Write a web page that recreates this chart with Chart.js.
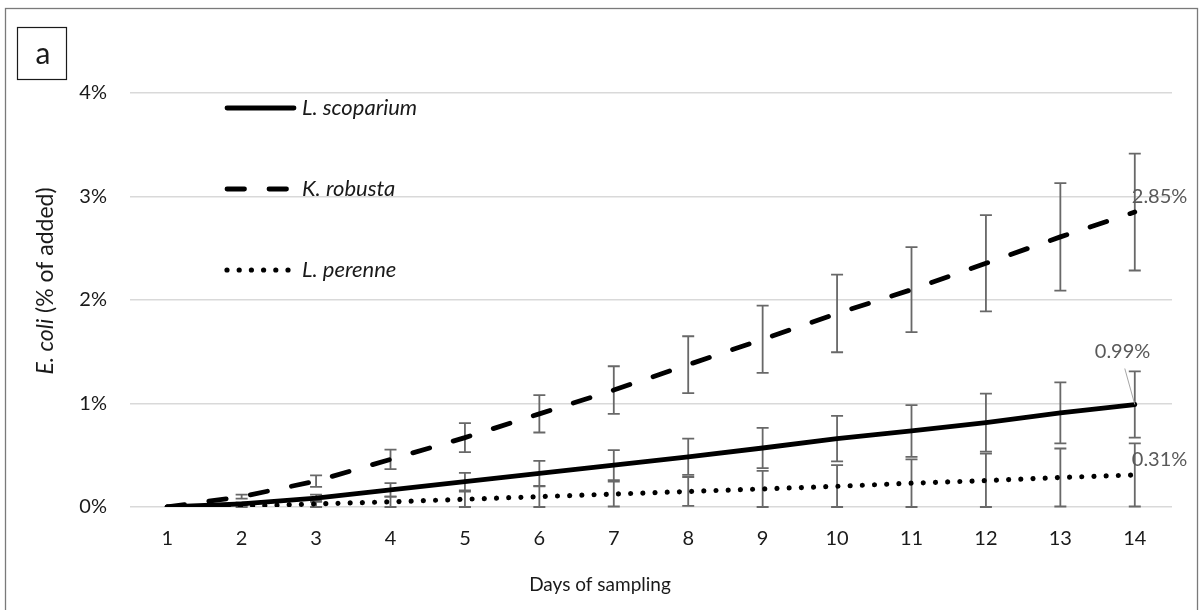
<!DOCTYPE html>
<html>
<head>
<meta charset="utf-8">
<title>E. coli recovery by plant species</title>
<script src="https://cdn.jsdelivr.net/npm/chart.js@4.4.1/dist/chart.umd.min.js"></script>
<style>
  html, body { margin: 0; padding: 0; background: #ffffff; }
  canvas { display: block; }
</style>
</head>
<body>
<canvas id="chart" width="1200" height="610"></canvas>
<script>
// Sampling days (category axis)
const days = ['1', '2', '3', '4', '5', '6', '7', '8', '9', '10', '11', '12', '13', '14'];

// Cumulative E. coli recovered, % of added, with ± error
const scoparium    = [0, 0.03, 0.085, 0.165, 0.245, 0.325, 0.405, 0.485, 0.57, 0.66, 0.735, 0.815, 0.91, 0.99];
const scopariumErr = [0, 0.015, 0.035, 0.065, 0.085, 0.12, 0.145, 0.175, 0.195, 0.22, 0.25, 0.28, 0.295, 0.32];

const robusta      = [0, 0.10, 0.25, 0.46, 0.67, 0.90, 1.13, 1.375, 1.62, 1.87, 2.10, 2.355, 2.61, 2.85];
const robustaErr   = [0, 0.02, 0.055, 0.095, 0.14, 0.18, 0.23, 0.275, 0.325, 0.375, 0.41, 0.465, 0.52, 0.565];

const perenne      = [0, 0.01, 0.03, 0.05, 0.075, 0.10, 0.125, 0.15, 0.175, 0.20, 0.23, 0.255, 0.285, 0.31];
const perenneErr   = [0, 0.01, 0.03, 0.05, 0.075, 0.10, 0.12, 0.14, 0.175, 0.205, 0.23, 0.26, 0.28, 0.305];

const seriesNames = ['L. scoparium', 'K. robusta', 'L. perenne'];
const yTickValues = [0, 1, 2, 3, 4];
const panelLetter = 'a';
const xTitle = 'Days of sampling';
const yTitleItalic = 'E. coli';
const yTitleRest = ' (% of added)';

const FONT = 'Lato, "Open Sans", sans-serif';

// White background, outer frame and the panel letter box
const framePlugin = {
  id: 'frame',
  beforeDraw(chart) {
    const ctx = chart.ctx;
    ctx.save();
    ctx.fillStyle = '#ffffff';
    ctx.fillRect(0, 0, chart.width, chart.height);
    ctx.strokeStyle = '#7a7a7a';
    ctx.lineWidth = 1.3;
    ctx.strokeRect(5.5, 8.5, 1192, 620);
    ctx.strokeStyle = '#1a1a1a';
    ctx.lineWidth = 1.2;
    ctx.strokeRect(17.5, 27.5, 49, 52);
    ctx.fillStyle = '#1a1a1a';
    ctx.font = '30px ' + FONT;
    ctx.textAlign = 'center';
    ctx.textBaseline = 'middle';
    ctx.fillText(panelLetter, 43, 54);
    ctx.restore();
  }
};

// Vertical error bars with caps, clipped at zero
const errorBarPlugin = {
  id: 'errorBars',
  beforeDatasetsDraw(chart) {
    const ctx = chart.ctx;
    const x = chart.scales.x, y = chart.scales.y;
    ctx.save();
    ctx.strokeStyle = '#686868';
    ctx.lineWidth = 1.8;
    chart.data.datasets.forEach(ds => {
      const errs = ds.errorValues;
      if (!errs) return;
      ds.data.forEach((v, i) => {
        const e = errs[i];
        if (!e) return;
        const px = x.getPixelForValue(i);
        const top = y.getPixelForValue(v + e);
        const bot = y.getPixelForValue(Math.max(0, v - e));
        ctx.beginPath();
        ctx.moveTo(px, top); ctx.lineTo(px, bot);
        ctx.moveTo(px - 6, top); ctx.lineTo(px + 6, top);
        ctx.moveTo(px - 6, bot); ctx.lineTo(px + 6, bot);
        ctx.stroke();
      });
    });
    ctx.restore();
  }
};

// Value labels on the final day of each series
const endLabelPlugin = {
  id: 'endLabels',
  afterDatasetsDraw(chart) {
    const ctx = chart.ctx;
    ctx.save();
    ctx.font = '20px ' + FONT;
    ctx.fillStyle = '#595959';
    ctx.textBaseline = 'middle';
    chart.data.datasets.forEach((ds, di) => {
      const meta = chart.getDatasetMeta(di);
      const last = ds.data.length - 1;
      const pt = meta.data[last];
      const txt = ds.data[last].toFixed(2) + '%';
      const o = ds.labelOffset;
      ctx.textAlign = o.align;
      ctx.fillText(txt, pt.x + o.dx, pt.y + o.dy);
      if (o.leader) {
        ctx.strokeStyle = '#a6a6a6';
        ctx.lineWidth = 1;
        ctx.beginPath();
        ctx.moveTo(pt.x - 10, pt.y + o.dy + 17);
        ctx.lineTo(pt.x, pt.y);
        ctx.stroke();
      }
    });
    ctx.restore();
  }
};

// Legend inside the plot area and the axis titles
const legendTitlePlugin = {
  id: 'legendTitles',
  afterDraw(chart) {
    const ctx = chart.ctx;
    const rows = [108, 189, 270];
    ctx.save();
    chart.data.datasets.forEach((ds, i) => {
      const yy = rows[i];
      ctx.strokeStyle = ds.borderColor;
      ctx.lineWidth = ds.borderWidth;
      ctx.lineCap = 'round';
      ctx.setLineDash(ds.borderDash || []);
      ctx.beginPath();
      ctx.moveTo(227, yy);
      ctx.lineTo(ds.borderDash && ds.borderDash.length ? 293 : 294, yy);
      ctx.stroke();
      ctx.setLineDash([]);
      ctx.fillStyle = '#1a1a1a';
      ctx.font = 'italic 22px ' + FONT;
      ctx.textAlign = 'left';
      ctx.textBaseline = 'middle';
      ctx.fillText(ds.label, 302, yy);
    });

    // x title
    ctx.fillStyle = '#1a1a1a';
    ctx.font = '19px ' + FONT;
    ctx.textAlign = 'center';
    ctx.textBaseline = 'middle';
    ctx.fillText(xTitle, 600, 585);

    // y title (rotated, mixed italic)
    ctx.translate(46, 281);
    ctx.rotate(-Math.PI / 2);
    const fI = 'italic 23px ' + FONT, fN = '23px ' + FONT;
    ctx.font = fI; const w1 = ctx.measureText(yTitleItalic).width;
    ctx.font = fN; const w2 = ctx.measureText(yTitleRest).width;
    const start = -(w1 + w2) / 2;
    ctx.textAlign = 'left';
    ctx.font = fI; ctx.fillText(yTitleItalic, start, 0);
    ctx.font = fN; ctx.fillText(yTitleRest, start + w1, 0);
    ctx.restore();
  }
};

new Chart(document.getElementById('chart'), {
  type: 'line',
  data: {
    labels: days,
    datasets: [
      {
        label: seriesNames[0], data: scoparium, errorValues: scopariumErr,
        borderColor: '#000000', borderWidth: 4.8, borderDash: [],
        borderCapStyle: 'round', borderJoinStyle: 'round',
        labelOffset: { dx: -40, dy: -53, align: 'left', leader: true }
      },
      {
        label: seriesNames[1], data: robusta, errorValues: robustaErr,
        borderColor: '#000000', borderWidth: 4.8, borderDash: [17.5, 24.5],
        borderCapStyle: 'round', borderJoinStyle: 'round',
        labelOffset: { dx: -3, dy: -15, align: 'left' }
      },
      {
        label: seriesNames[2], data: perenne, errorValues: perenneErr,
        borderColor: '#000000', borderWidth: 5.2, borderDash: [0.001, 12.2],
        borderCapStyle: 'round', borderJoinStyle: 'round',
        labelOffset: { dx: -3, dy: -15, align: 'left' }
      }
    ]
  },
  options: {
    responsive: false,
    animation: false,
    devicePixelRatio: 1,
    layout: { padding: { left: 0, right: 28, top: 93, bottom: 0 } },
    elements: { line: { tension: 0 }, point: { radius: 0, hoverRadius: 0 } },
    plugins: { legend: { display: false }, tooltip: { enabled: false } },
    scales: {
      x: {
        type: 'category',
        offset: true,
        grid: { display: false, drawTicks: false },
        border: { display: false },
        ticks: { color: '#1a1a1a', font: { family: FONT, size: 20 }, padding: 20, maxRotation: 0 },
        afterFit(s) { s.height = 103; }
      },
      y: {
        min: 0, max: 4,
        grid: { color: '#d9d9d9', lineWidth: 1.5, drawTicks: false },
        border: { display: false },
        afterBuildTicks(s) { s.ticks = yTickValues.map(v => ({ value: v })); },
        ticks: {
          color: '#1a1a1a', font: { family: FONT, size: 20 }, padding: 23,
          callback: v => v + '%'
        },
        afterFit(s) { s.width = 130; }
      }
    }
  },
  plugins: [framePlugin, errorBarPlugin, endLabelPlugin, legendTitlePlugin]
});
</script>
</body>
</html>
